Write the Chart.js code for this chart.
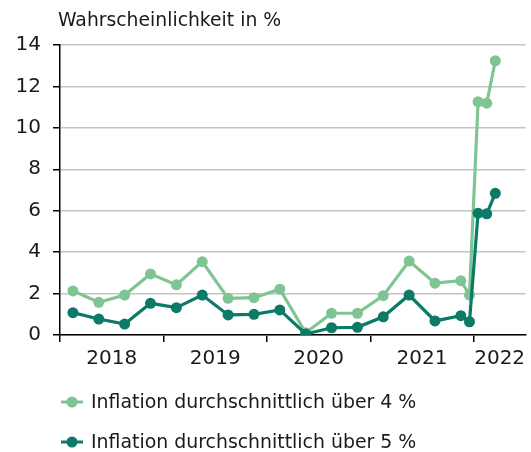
<!DOCTYPE html>
<html>
<head>
<meta charset="utf-8">
<script src="https://cdn.jsdelivr.net/npm/chart.js@4.4.1/dist/chart.umd.min.js"></script>
<style>
  html, body { margin: 0; padding: 0; background: #fff; }
  #wrap { width: 531px; height: 452px; }
</style>
</head>
<body>
<div id="wrap"><canvas id="chart" width="531" height="452"></canvas></div>
<script>
// Daten
const yTitle = 'Wahrscheinlichkeit in %';
const periods = [
  '2018-Q1', '2018-Q2', '2018-Q3', '2018-Q4',
  '2019-Q1', '2019-Q2', '2019-Q3', '2019-Q4',
  '2020-Q1', '2020-Q2', '2020-Q3', '2020-Q4',
  '2021-Q1', '2021-Q2', '2021-Q3', '2021-Q4',
  '2021-12', '2022-01', '2022-02', '2022-03'
];
const labelOver4 = 'Inflation durchschnittlich über 4 %';
const labelOver5 = 'Inflation durchschnittlich über 5 %';
const over4 = [2.13, 1.58, 1.93, 2.95, 2.42, 3.54, 1.77, 1.80, 2.21, 0.11, 1.05, 1.05, 1.90, 3.57, 2.50, 2.62, 1.93, 11.26, 11.19, 13.24];
const over5 = [1.08, 0.77, 0.53, 1.53, 1.32, 1.93, 0.97, 1.00, 1.21, 0.05, 0.35, 0.37, 0.88, 1.93, 0.68, 0.93, 0.64, 5.88, 5.85, 6.84];
const years = ['2018', '2019', '2020', '2021', '2022'];
const yMax = 14, yStep = 2;
const xEnd = 2022.5; // Datenrand (Mitte 2022)

const LIGHT = '#7fc493';
const DARK = '#0b7a66';
const FONT = 'DejaVu Sans';

// Periode -> Dezimaljahr (Mitte des Quartals / Monats)
function toYear(p) {
  const [y, part] = p.split('-');
  if (part[0] === 'Q') return Number(y) + (Number(part.slice(1)) - 0.5) / 4;
  return Number(y) + (Number(part) - 0.5) / 12;
}
const xs = periods.map(toYear);
const pts = vals => vals.map((v, i) => ({ x: xs[i], y: v }));

// Jahres-Ticks (Striche) und Beschriftungen in der Mitte des Jahres
const firstYear = Number(years[0]);
const tickMarks = years.map(Number);
const labelPos = years.map(y => {
  const a = Number(y), b = Math.min(a + 1, xEnd);
  return (a + b) / 2;
});

const titleLegend = {
  id: 'titleLegend',
  afterDraw(chart) {
    const ctx = chart.ctx;
    const area = chart.chartArea;
    ctx.save();
    ctx.fillStyle = '#1a1a1a';
    ctx.font = '18.8px "' + FONT + '"';
    ctx.textBaseline = 'middle';
    ctx.textAlign = 'left';
    ctx.fillText(yTitle, area.left - 2, 21);

    const rows = [402, 442];
    chart.data.datasets.forEach((ds, i) => {
      const y = rows[i];
      ctx.strokeStyle = ds.borderColor;
      ctx.lineWidth = 3;
      ctx.beginPath();
      ctx.moveTo(61, y);
      ctx.lineTo(83, y);
      ctx.stroke();
      ctx.fillStyle = ds.borderColor;
      ctx.beginPath();
      ctx.arc(72, y, 5.5, 0, Math.PI * 2);
      ctx.fill();
      ctx.fillStyle = '#1a1a1a';
      ctx.font = '18.9px "' + FONT + '"';
      ctx.fillText(ds.label, 91, y + 1);
    });
    ctx.restore();
  }
};

new Chart(document.getElementById('chart'), {
  type: 'line',
  data: {
    datasets: [
      {
        label: labelOver4, data: pts(over4), order: 2,
        borderColor: LIGHT, backgroundColor: LIGHT,
        borderWidth: 3.2, pointRadius: 5.5, pointHoverRadius: 5.5, pointBorderWidth: 0,
        tension: 0
      },
      {
        label: labelOver5, data: pts(over5), order: 1,
        borderColor: DARK, backgroundColor: DARK,
        borderWidth: 3.2, pointRadius: 5.5, pointHoverRadius: 5.5, pointBorderWidth: 0,
        tension: 0
      }
    ]
  },
  options: {
    responsive: false,
    animation: false,
    layout: { padding: { top: 45, right: 4, left: 0, bottom: 0 } },
    plugins: { legend: { display: false }, title: { display: false }, tooltip: { enabled: false } },
    scales: {
      x: {
        type: 'linear',
        min: firstYear,
        max: xEnd,
        afterBuildTicks: s => {
          s.ticks = tickMarks.map(v => ({ value: v })).concat(labelPos.map(v => ({ value: v })));
          s.ticks.sort((a, b) => a.value - b.value);
        },
        afterFit: s => { s.height = 117; },
        border: { display: true, color: '#000', width: 1.5 },
        grid: {
          drawOnChartArea: false,
          tickLength: 7,
          lineWidth: 1.5,
          tickColor: c => (c.tick && Number.isInteger(c.tick.value)) ? '#000' : 'rgba(0,0,0,0)'
        },
        ticks: {
          autoSkip: false,
          maxRotation: 0,
          padding: 5,
          color: '#1a1a1a',
          font: { family: FONT, size: 20 },
          callback: v => {
            const i = labelPos.indexOf(v);
            return i >= 0 ? years[i] : '';
          }
        }
      },
      y: {
        min: 0,
        max: yMax,
        afterFit: s => { s.width = 60; },
        border: { display: true, color: '#000', width: 1.5 },
        grid: { color: '#c4c4c4', lineWidth: 1.5, tickColor: '#000', tickLength: 7 },
        ticks: {
          stepSize: yStep,
          padding: 12,
          color: '#1a1a1a',
          font: { family: FONT, size: 20 }
        }
      }
    }
  },
  plugins: [titleLegend]
});
</script>
</body>
</html>
